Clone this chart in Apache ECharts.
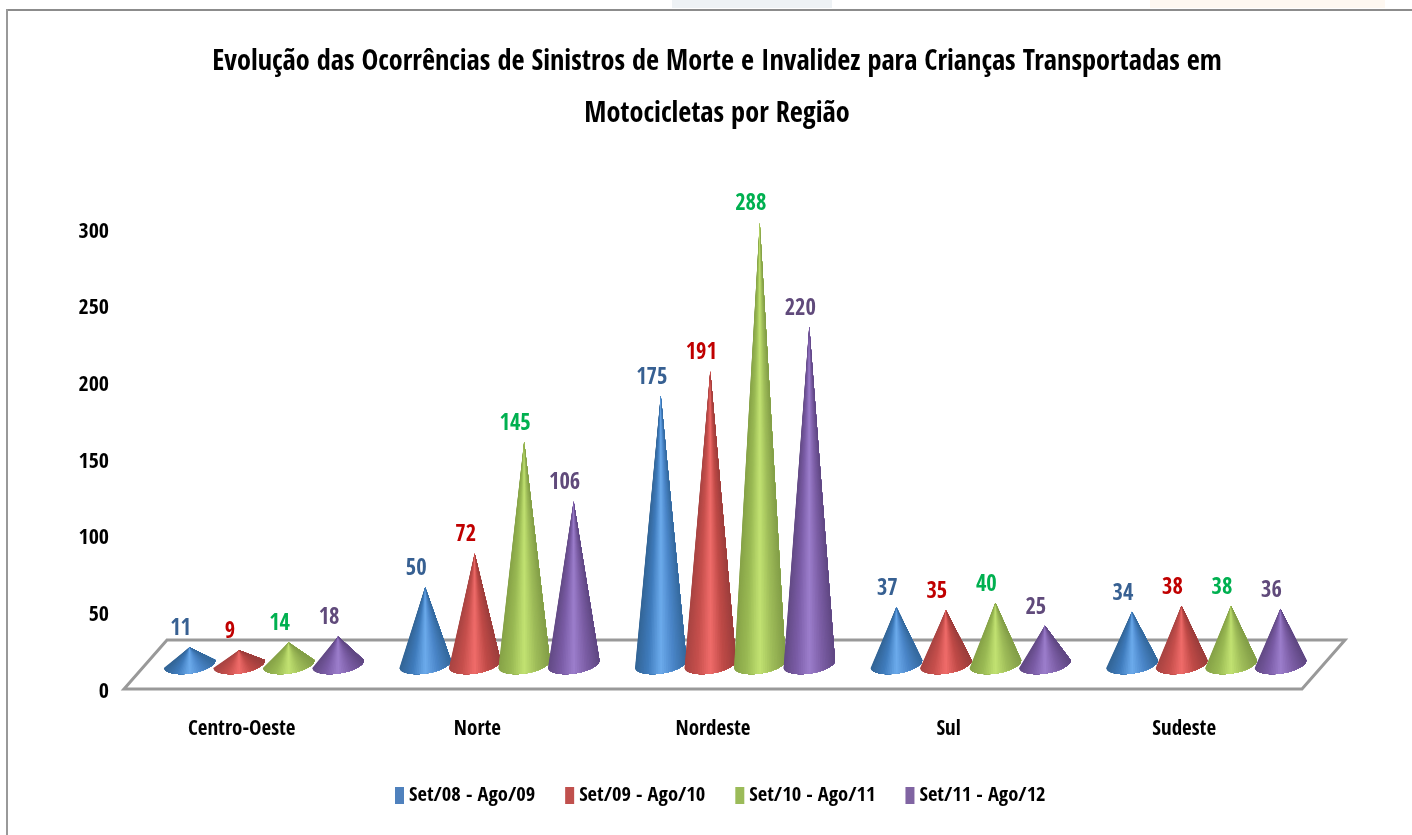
<!DOCTYPE html>
<html>
<meta charset="UTF-8">
<title>sinistros-regiao</title>
<style type="text/css">
    html,
    body {
        margin: 0px;
        height: 100%;
        width: 100%;
        background: #fff;
    }

    #chart {
        width: 1412px;
        height: 835px;
    }
</style>
<script src="https://cdn.jsdelivr.net/npm/echarts@6/dist/echarts.min.js"></script>

<body>
    <div id="chart"></div>
    <script>
        const titleText = 'Evolução das Ocorrências de Sinistros de Morte e Invalidez para Crianças Transportadas em\nMotocicletas por Região';
        const regions = ['Centro-Oeste', 'Norte', 'Nordeste', 'Sul', 'Sudeste'];
        const yTicks = { min: 0, max: 300, interval: 50 };

        const periods = ['Set/08 - Ago/09', 'Set/09 - Ago/10', 'Set/10 - Ago/11', 'Set/11 - Ago/12'];
        const set08 = [11, 50, 175, 37, 34];
        const set09 = [9, 72, 191, 35, 38];
        const set10 = [14, 145, 288, 40, 38];
        const set11 = [18, 106, 220, 25, 36];
        const seriesValues = [set08, set09, set10, set11];

        const legendColors = ['#4f81bd', '#c0504d', '#9bbb59', '#8064a2'];
        const labelColors = ['#376092', '#c00000', '#00b050', '#604a7b'];
        // left edge -> middle highlight -> right edge of each cone
        const coneShades = [
            ['#336596', '#3f7bbc', '#6cabec', '#4a85c8', '#356a9e'],
            ['#a84442', '#c64f4c', '#f06c6a', '#bf4a47', '#9c3e3c'],
            ['#86a247', '#9aba54', '#c2e272', '#9dbb58', '#839e48'],
            ['#634a85', '#7a5ca6', '#9c7ecc', '#7c5ea6', '#604883']
        ];

        const fontName = '"Open Sans Condensed", "Liberation Sans", sans-serif';
        const depthX = 43, depthY = -49;     // floor depth
        const coneShiftX = 22, coneShiftY = -25;
        const coneStep = 49.5, coneRx = 26, coneRy = 9.5, coneTilt = -8.7 * Math.PI / 180;

        function renderFloor(params, api) {
            const cs = params.coordSys;
            const bottom = cs.y + cs.height;
            return {
                type: 'polygon',
                shape: {
                    points: [
                        [cs.x, bottom],
                        [cs.x + cs.width, bottom],
                        [cs.x + cs.width + depthX, bottom + depthY],
                        [cs.x + depthX, bottom + depthY]
                    ]
                },
                style: { fill: '#fff', stroke: '#999', lineWidth: 3 }
            };
        }

        function renderCone(params, api) {
            const s = params.seriesIndex - 1;
            const top = api.coord([api.value(0), api.value(1)]);
            const base = api.coord([api.value(0), 0]);
            const cx = top[0] + (s - 1.5) * coneStep + coneShiftX;
            const cy = base[1] + coneShiftY;
            const tipY = top[1] + coneShiftY;
            const n = 40;
            const pts = [];
            for (let i = 0; i <= n; i++) {
                const p = Math.PI * (1 - i / n);
                pts.push([
                    cx + coneRx * Math.cos(p) * Math.cos(coneTilt) - coneRy * Math.sin(p) * Math.sin(coneTilt),
                    cy + coneRx * Math.cos(p) * Math.sin(coneTilt) + coneRy * Math.sin(p) * Math.cos(coneTilt)
                ]);
            }
            const children = [];
            const width = pts[n][0] - pts[0][0];
            // each layer covers the rest of the cone, so no seams show between shades
            for (let i = 0; i < n; i++) {
                const u = ((pts[i][0] + pts[i + 1][0]) / 2 - pts[0][0]) / width;
                children.push({
                    type: 'polygon',
                    shape: { points: [[cx, tipY]].concat(pts.slice(i)) },
                    style: { fill: echarts.color.lerp(u, coneShades[s]) }
                });
            }
            children.push({
                type: 'text',
                style: {
                    text: String(api.value(1)),
                    x: cx - 9,
                    y: tipY - 18,
                    align: 'center',
                    verticalAlign: 'middle',
                    fill: labelColors[s],
                    fontFamily: fontName,
                    fontWeight: 'bold',
                    fontSize: 22.5
                }
            });
            return { type: 'group', children: children };
        }

        const chart = echarts.init(document.querySelector('#chart'));
        const series = [{
            name: 'floor',
            type: 'custom',
            renderItem: renderFloor,
            data: [0],
            silent: true
        }];
        periods.forEach((name, s) => {
            series.push({
                name: name,
                type: 'custom',
                renderItem: renderCone,
                itemStyle: { color: legendColors[s] },
                encode: { x: 0, y: 1 },
                data: seriesValues[s].map((v, i) => [i, v])
            });
        });

        chart.setOption({
            animation: false,
            backgroundColor: '#fff',
            title: {
                text: titleText,
                left: 712,
                top: 32,
                textAlign: 'center',
                textStyle: {
                    fontFamily: fontName,
                    fontSize: 28.3,
                    fontWeight: 'bold',
                    lineHeight: 52,
                    color: '#000'
                }
            },
            legend: {
                data: periods,
                left: 390,
                top: 780,
                icon: 'rect',
                itemWidth: 9,
                itemHeight: 17,
                itemGap: 30,
                textStyle: { fontFamily: fontName, fontSize: 20.5, fontWeight: 'bold', color: '#000' }
            },
            grid: { left: 124, top: 229, width: 1178, height: 460 },
            xAxis: {
                type: 'category',
                data: regions,
                axisLine: { show: false },
                axisTick: { show: false },
                axisLabel: { margin: 30, fontFamily: fontName, fontSize: 21, fontWeight: 'bold', color: '#000' }
            },
            yAxis: {
                type: 'value',
                min: yTicks.min,
                max: yTicks.max,
                interval: yTicks.interval,
                axisLine: { show: false },
                axisTick: { show: false },
                splitLine: { show: false },
                axisLabel: { margin: 15, verticalAlign: 'top', lineHeight: 6, fontFamily: fontName, fontSize: 22, fontWeight: 'bold', color: '#000' }
            },
            graphic: [
                { type: 'rect', z: -1, shape: { x: 672, y: 0, width: 160, height: 8 }, style: { fill: '#eef2f5' } },
                { type: 'rect', z: -1, shape: { x: 1150, y: 0, width: 235, height: 8 }, style: { fill: '#fef8f1' } },
                { type: 'line', z: -1, shape: { x1: 6, y1: 10, x2: 1412, y2: 10 }, style: { stroke: '#8c8c8c', lineWidth: 2 } },
                { type: 'line', z: -1, shape: { x1: 7, y1: 9, x2: 7, y2: 835 }, style: { stroke: '#999', lineWidth: 2 } }
            ],
            series: series
        });
    </script>
</body>

</html>
